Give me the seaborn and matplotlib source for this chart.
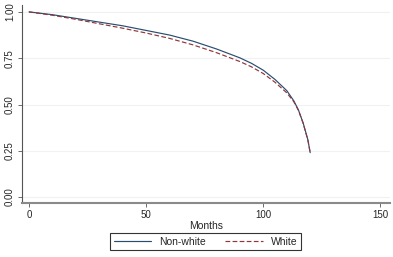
import numpy as np
import pandas as pd
import seaborn as sns
import matplotlib.pyplot as plt

# ---------------------------------------------------------
# Data (survival estimates by month)
# ---------------------------------------------------------
months = [0, 10, 20, 30, 40, 50, 60, 70, 80, 90, 95, 100, 105, 110, 113, 115, 117, 119, 120]
non_white = [1.0, 0.985, 0.965, 0.945, 0.925, 0.900, 0.875, 0.842, 0.800, 0.752, 0.722,
             0.685, 0.635, 0.575, 0.520, 0.470, 0.400, 0.310, 0.240]
white = [1.0, 0.982, 0.960, 0.936, 0.912, 0.886, 0.857, 0.822, 0.780, 0.732, 0.703,
         0.667, 0.620, 0.563, 0.515, 0.468, 0.398, 0.308, 0.240]
groups = ["Non-white", "White"]
x_ticks = [0, 50, 100, 150]
y_ticks = [0.00, 0.25, 0.50, 0.75, 1.00]

df = pd.DataFrame({
    "Months": months * 2,
    "surv": non_white + white,
    "group": ["Non-white"] * len(months) + ["White"] * len(months),
})

sns.set_style("white")
plt.rcParams["font.family"] = ["Liberation Sans", "DejaVu Sans"]

fig = plt.figure(figsize=(3.93, 2.57), dpi=100)
ax = fig.add_axes([0.056, 0.210, 0.936, 0.771])

# horizontal grid lines like Stata's s2color scheme
for yv in y_ticks:
    ax.axhline(yv, color="#eef2f4", linewidth=0.8, zorder=0)

sns.lineplot(
    data=df, x="Months", y="surv", hue="group", style="group",
    hue_order=groups, style_order=groups,
    palette={"Non-white": "#2a4d6e", "White": "#90353b"},
    dashes={"Non-white": "", "White": (4, 2)},
    linewidth=0.85, estimator=None, sort=False, ax=ax, legend=False,
)

ax.set_xlim(-3, 154)
ax.set_ylim(-0.032, 1.038)
ax.set_xticks(x_ticks)
ax.set_yticks(y_ticks)
ax.set_yticklabels([f"{v:.2f}" for v in y_ticks], rotation=90, va="center")
ax.tick_params(axis="both", labelsize=7, length=3, width=0.6, color="#555555",
               direction="out", pad=2, left=True, bottom=True)
ax.set_xlabel("Months", fontsize=7.5, labelpad=1)
ax.set_ylabel("")

for side in ["top", "right"]:
    ax.spines[side].set_visible(False)
ax.spines["left"].set_color("#555555")
ax.spines["left"].set_linewidth(0.8)
ax.spines["bottom"].set_color("#8a8a8a")
ax.spines["bottom"].set_linewidth(1.5)

# legend below the plot, boxed, two columns
handles = [
    plt.Line2D([], [], color="#2a4d6e", linewidth=0.85),
    plt.Line2D([], [], color="#90353b", linewidth=0.85, dashes=(4, 2)),
]
leg = fig.legend(handles, groups, loc="center", bbox_to_anchor=(0.523, 0.06), ncol=2,
                 fontsize=7.5, frameon=True, fancybox=False, handlelength=3.6,
                 columnspacing=1.9, handletextpad=0.75, borderpad=0.35,
                 edgecolor="black")
leg.get_frame().set_linewidth(0.8)

fig.savefig("out.png", dpi=100)
